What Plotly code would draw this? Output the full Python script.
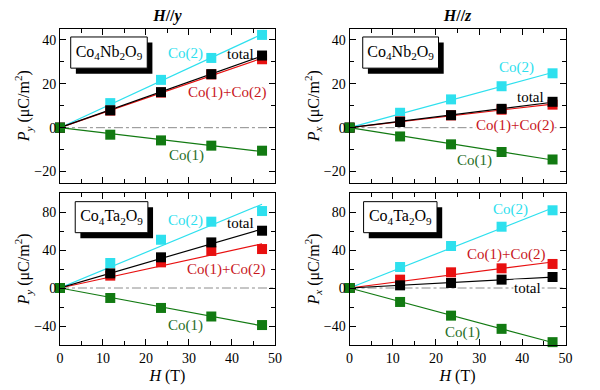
import numpy as np
import plotly.graph_objects as go

H = [0, 11.7, 23.5, 35.2, 47.0]

# Co4Nb2O9, H//y  (P_y)
nb_y_co2 = [0, 11.2, 21.8, 31.8, 42.3]
nb_y_tot = [0, 7.9, 16.2, 24.4, 32.9]
nb_y_sum = [0, 7.8, 16.0, 24.3, 31.2]
nb_y_co1 = [0, -3.2, -5.8, -8.2, -10.5]

# Co4Nb2O9, H//z  (P_x)
nb_z_co2 = [0, 6.8, 12.9, 18.9, 24.8]
nb_z_tot = [0, 2.6, 5.7, 8.6, 11.8]
nb_z_sum = [0, 2.9, 5.6, 8.2, 10.5]
nb_z_co1 = [0, -4.0, -7.6, -11.1, -14.5]

# Co4Ta2O9, H//y  (P_y)
ta_y_co2 = [0, 26.3, 50.8, 69.8, 81.0]
ta_y_tot = [0, 15.4, 32.3, 48.0, 60.3]
ta_y_sum = [0, 13.0, 27.0, 39.0, 41.0]
ta_y_co1 = [0, -10.5, -21.0, -30.0, -39.0]

# Co4Ta2O9, H//z  (P_x)
ta_z_co2 = [0, 22.1, 44.2, 64.5, 81.8]
ta_z_tot = [0, 2.8, 5.3, 8.8, 11.6]
ta_z_sum = [0, 8.8, 16.5, 20.7, 25.3]
ta_z_co1 = [0, -14.7, -29.1, -43.0, -57.0]

column_titles = ["<b><i>H</i>//<i>y</i></b>", "<b><i>H</i>//<i>z</i></b>"]

CYAN = "#2ee0ee"
BLACK = "#000000"
RED = "#e81010"
GREEN = "#127a12"
RED_TXT = "#c8161c"
GREEN_TXT = "#1f6e1f"
FONT = "Liberation Serif"

panels = [
    dict(xa="x", ya="y", s=[nb_y_co2, nb_y_sum, nb_y_tot, nb_y_co1], yr=[-25, 45],
         lab=[("Co(2)", 29.2, 33.6, CYAN, False), ("total", 41.9, 33.8, BLACK, False),
              ("Co(1)+Co(2)", 38.9, 16.2, RED_TXT, False), ("Co(1)", 29.4, -12.6, GREEN_TXT, False)],
         comp="Co<sub>4</sub>Nb<sub>2</sub>O<sub>9</sub>", box=(0.05, 0.406, 0.745, 0.948)),
    dict(xa="x2", ya="y2", s=[nb_z_co2, nb_z_sum, nb_z_tot, nb_z_co1], yr=[-25, 45],
         lab=[("Co(2)", 38.6, 27.6, CYAN, False), ("total", 42.0, 14.0, BLACK, False),
              ("Co(1)+Co(2)", 38.2, 1.0, RED_TXT, True), ("Co(1)", 28.9, -14.9, GREEN_TXT, False)],
         comp="Co<sub>4</sub>Nb<sub>2</sub>O<sub>9</sub>", box=(0.061, 0.412, 0.745, 0.948)),
    dict(xa="x3", ya="y3", s=[ta_y_co2, ta_y_sum, ta_y_tot, ta_y_co1], yr=[-60, 100],
         lab=[("Co(2)", 29.2, 70.8, CYAN, False), ("total", 41.9, 68.0, BLACK, False),
              ("Co(1)+Co(2)", 38.7, 20.0, RED_TXT, False), ("Co(1)", 29.2, -39.7, GREEN_TXT, False)],
         comp="Co<sub>4</sub>Ta<sub>2</sub>O<sub>9</sub>", box=(0.071, 0.409, 0.739, 0.943)),
    dict(xa="x4", ya="y4", s=[ta_z_co2, ta_z_sum, ta_z_tot, ta_z_co1], yr=[-60, 100],
         lab=[("Co(2)", 37.3, 83.0, CYAN, False), ("Co(1)+Co(2)", 36.3, 35.4, RED_TXT, False),
              ("total", 41.2, -0.3, BLACK, True), ("Co(1)", 26.1, -46.6, GREEN_TXT, False)],
         comp="Co<sub>4</sub>Ta<sub>2</sub>O<sub>9</sub>", box=(0.065, 0.405, 0.739, 0.943)),
]

fig = go.Figure()
colors = [CYAN, RED, BLACK, GREEN]
Hx = np.array(H)
annotations = []
shapes = []

for p in panels:
    fig.add_trace(go.Scatter(x=[0, 50], y=[0, 0], mode="lines", xaxis=p["xa"], yaxis=p["ya"],
                             line=dict(color="#8c8c8c", width=1, dash="dashdot"),
                             showlegend=False, hoverinfo="skip"))
    for ser, c in zip(p["s"], colors):
        yv = np.array(ser)
        slope = float((Hx * yv).sum() / (Hx * Hx).sum())
        fig.add_trace(go.Scatter(x=[0, Hx[-1]], y=[0, slope * Hx[-1]], mode="lines",
                                 xaxis=p["xa"], yaxis=p["ya"], line=dict(color=c, width=1.2),
                                 showlegend=False, hoverinfo="skip"))
    for ser, c in zip(p["s"], colors):
        fig.add_trace(go.Scatter(x=H, y=ser, mode="markers", xaxis=p["xa"], yaxis=p["ya"],
                                 marker=dict(symbol="square", size=10, color=c, line=dict(width=0)),
                                 cliponaxis=False, showlegend=False))
    for (t, x, y, c, bg) in p["lab"]:
        ann = dict(x=x, y=y, xref=p["xa"], yref=p["ya"], text=t, showarrow=False,
                   font=dict(family=FONT, size=15, color=c), borderpad=0)
        if bg:
            ann["bgcolor"] = "white"
        annotations.append(ann)
    x0, x1, y0, y1 = p["box"]
    dxr = p["xa"] + " domain"
    dyr = p["ya"] + " domain"
    shapes.append(dict(type="rect", xref=dxr, yref=dyr, x0=x0 + 0.024, x1=x1 + 0.024,
                       y0=y0 - 0.036, y1=y1 - 0.036, fillcolor="black", line=dict(width=0),
                       layer="below"))
    shapes.append(dict(type="rect", xref=dxr, yref=dyr, x0=x0, x1=x1, y0=y0, y1=y1,
                       fillcolor="white", line=dict(color="black", width=1), layer="below"))
    lo, hi = p["yr"]
    cx = 50 * (x0 + x1) / 2
    cy = lo + (hi - lo) * ((y0 + y1) / 2)
    fig.add_trace(go.Scatter(x=[cx], y=[cy], mode="text", text=[p["comp"]],
                             textposition="middle center", xaxis=p["xa"], yaxis=p["ya"],
                             textfont=dict(family=FONT, size=16, color="black"),
                             showlegend=False, hoverinfo="skip", cliponaxis=False))

# column headings on hidden strip axes above the top panels
for t, xa, ya in zip(column_titles, ["x5", "x6"], ["y5", "y6"]):
    fig.add_trace(go.Scatter(x=[0.5], y=[0.41], mode="text", text=[t],
                             textposition="middle center", xaxis=xa, yaxis=ya,
                             textfont=dict(family=FONT, size=16, color="black"),
                             showlegend=False, hoverinfo="skip", cliponaxis=False))

xl = [57 / 600, 276 / 600]
xr = [352 / 600, 572 / 600]
yt = [1 - 182.5 / 390, 1 - 29 / 390]
yb = [1 - 345 / 390, 1 - 193 / 390]
ystrip = [1 - 29 / 390, 1.0]

tf = dict(family=FONT, size=16, color="black")

def xaxis(dom, anchor, labels, title):
    return dict(domain=dom, anchor=anchor, range=[0, 50], dtick=10, tick0=0,
                ticks="inside", ticklen=6, tickwidth=1, tickcolor="black",
                minor=dict(dtick=5, ticks="inside", ticklen=4, tickcolor="black", tickwidth=1),
                mirror="ticks", showline=True, linecolor="black", linewidth=1,
                showgrid=False, zeroline=False, showticklabels=labels,
                tickfont=dict(family=FONT, size=14, color="black"),
                title=dict(text=title, font=tf, standoff=5))

def yaxis(dom, anchor, rng, dt, title):
    return dict(domain=dom, anchor=anchor, range=rng, dtick=dt, tick0=0,
                ticks="inside", ticklen=6, tickwidth=1, tickcolor="black",
                minor=dict(dtick=dt / 2, ticks="inside", ticklen=4, tickcolor="black", tickwidth=1),
                mirror="ticks", showline=True, linecolor="black", linewidth=1,
                showgrid=False, zeroline=False,
                tickfont=dict(family=FONT, size=14, color="black"),
                title=dict(text=title, font=tf, standoff=0))

def hidden(dom, anchor):
    return dict(domain=dom, anchor=anchor, range=[0, 1], visible=False, fixedrange=True)

py = "<i>P</i><sub><i>y</i></sub> (μC/m<sup>2</sup>)"
px = "<i>P</i><sub><i>x</i></sub> (μC/m<sup>2</sup>)"
ht = "<i>H</i> (T)"

fig.update_layout(
    width=600, height=390, margin=dict(l=0, r=0, t=0, b=0),
    plot_bgcolor="rgba(0,0,0,0)", paper_bgcolor="white",
    xaxis=xaxis(xl, "y", False, ""),
    yaxis=yaxis(yt, "x", [-25, 45], 20, py),
    xaxis2=xaxis(xr, "y2", False, ""),
    yaxis2=yaxis(yt, "x2", [-25, 45], 20, px),
    xaxis3=xaxis(xl, "y3", True, ht),
    yaxis3=yaxis(yb, "x3", [-60, 100], 40, py),
    xaxis4=xaxis(xr, "y4", True, ht),
    yaxis4=yaxis(yb, "x4", [-60, 100], 40, px),
    xaxis5=hidden(xl, "y5"), yaxis5=hidden(ystrip, "x5"),
    xaxis6=hidden(xr, "y6"), yaxis6=hidden(ystrip, "x6"),
)

fig.update_layout(annotations=annotations, shapes=shapes)
fig.write_html("out.html", config={"displayModeBar": False},
               post_script="document.body.style.margin='0';document.body.style.padding='0';")
